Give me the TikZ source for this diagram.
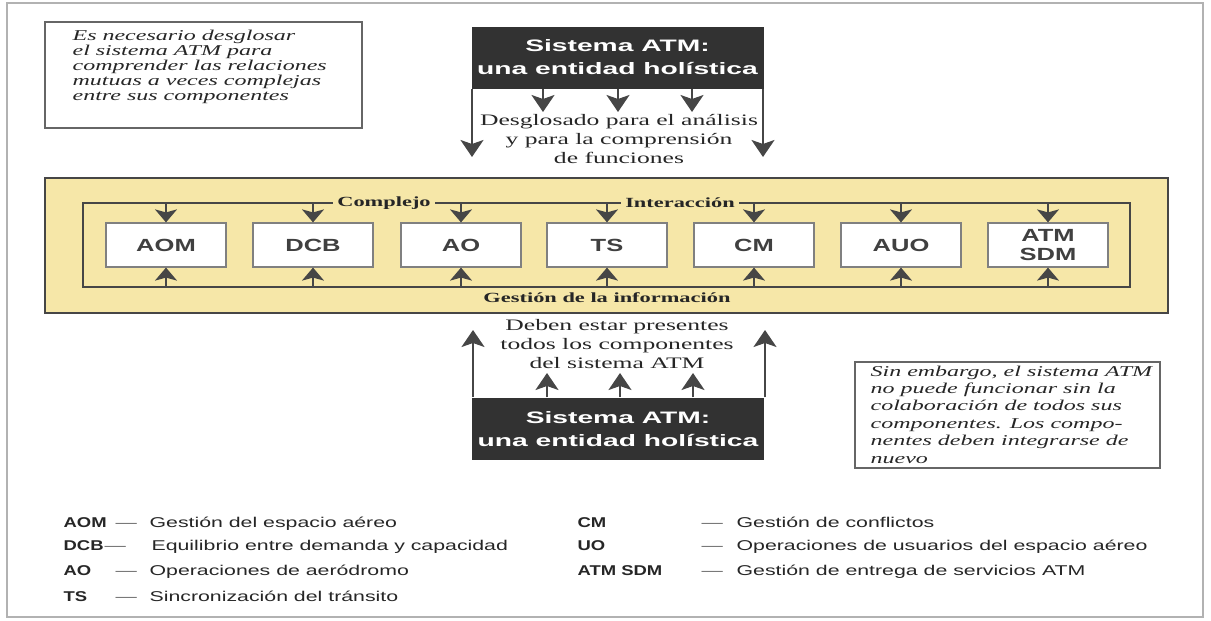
\documentclass[tikz,border=0pt]{standalone}
\usepackage{fontspec}
\usepackage{xcolor}
\usepackage{tikz}
\usetikzlibrary{arrows.meta}

\newfontfamily\notafont[FakeStretch=1.6]{Liberation Serif}
\newfontfamily\titulofont[FakeStretch=1.7]{Liberation Sans}
\newfontfamily\cajafont[FakeStretch=1.45]{Liberation Sans}
\newfontfamily\leyendafont[FakeStretch=1.5]{Liberation Sans}
\newfontfamily\abrevfont[FakeStretch=1.3]{Liberation Sans}

\definecolor{amarillo}{RGB}{246,231,168}
\definecolor{oscuro}{RGB}{50,50,50}
\definecolor{gris}{RGB}{70,70,70}

\begin{document}
\begin{tikzpicture}[x=0.5pt, y=-0.5pt, line width=0.6pt]

		\tikzset{
			flecha/.style={draw=gris, line width=0.8pt, -{Stealth[length=6.5pt, width=11pt, inset=1.5pt]}},
			flechagrande/.style={draw=gris, line width=1pt, -{Stealth[length=8.5pt, width=11.5pt, inset=2pt]}},
			recuadro/.style={draw=gray!80!black, line width=0.6pt},
			holistica/.style={fill=oscuro, text=white, font=\titulofont\bfseries\fontsize{8.3}{11.5}\selectfont, align=center, minimum width=146pt, minimum height=31pt, inner sep=0pt},
			componente/.style={draw=gray, fill=white, text=black!75, font=\cajafont\bfseries\fontsize{8.8}{9.5}\selectfont, align=center, minimum width=60pt, minimum height=22pt, inner sep=0pt},
			nota/.style={font=\notafont\itshape\fontsize{7.5}{7.6}\selectfont, text=black!85, align=left, anchor=north west, inner sep=0pt},
			texto/.style={font=\notafont\fontsize{8}{9.5}\selectfont, text=black!85, align=center, inner sep=0pt},
			etiqueta/.style={font=\notafont\bfseries\fontsize{7}{8}\selectfont, text=black!85, inner xsep=2pt, inner ysep=1pt},
			abrev/.style={font=\abrevfont\bfseries\fontsize{7.1}{8}\selectfont, text=black!85, anchor=base west, inner sep=0pt},
			guion/.style={font=\leyendafont\fontsize{7.1}{8}\selectfont, text=black!60, anchor=base west, inner sep=0pt},
			descripcion/.style={font=\leyendafont\fontsize{7.1}{8}\selectfont, text=black!85, anchor=base west, inner sep=0pt},
		}
		
		\useasboundingbox (0,0) rectangle (1211,621);
		\draw [gray!60, line width=1pt] (7,3) rectangle (1203,617);
		
		\draw [recuadro] (45,22) rectangle (362,128);
		\node (nota1) [nota] at (72,29) {Es necesario desglosar\\el sistema ATM para\\comprender las relaciones\\mutuas a veces complejas\\entre sus componentes};
		
		\draw [recuadro] (855,362) rectangle (1160,468);
		\node (nota2) [nota, font=\notafont\itshape\fontsize{7.5}{8.7}\selectfont] at (870,365) {Sin embargo, el sistema ATM\\no puede funcionar sin la\\colaboración de todos sus\\componentes. Los compo-\\nentes deben integrarse de\\nuevo};
		
		\node (holarriba) [holistica] at (617.5,57.5) {Sistema ATM:\\una entidad holística};
		
		\coordinate (baja1) at (472,157);
		\coordinate (baja2) at (763,157);
		\coordinate (desg1) at (543,112);
		\coordinate (desg2) at (618,112);
		\coordinate (desg3) at (692,112);
		
		\draw [flechagrande] (holarriba.south -| baja1) -- (baja1);
		\draw [flechagrande] (holarriba.south -| baja2) -- (baja2);
		\draw [flechagrande] (holarriba.south -| desg1) -- (desg1);
		\draw [flechagrande] (holarriba.south -| desg2) -- (desg2);
		\draw [flechagrande] (holarriba.south -| desg3) -- (desg3);
		
		\node (desglose) [texto] at (619,139) {Desglosado para el análisis\\y para la comprensión\\de funciones};
		
		\node (banda) [draw=gris, fill=amarillo, minimum width=561.5pt, minimum height=67.5pt, inner sep=0pt] at (606.5,245.5) {};
		\node (marco) [draw=gris, minimum width=523.5pt, minimum height=42pt, inner sep=0pt] at (606.5,245) {};
		
		\node (complejo) [etiqueta, fill=amarillo] at (384,203) {Complejo};
		\node (interaccion) [etiqueta, fill=amarillo] at (680,203) {Interacción};
		\node (gestion) [etiqueta] at (607,298) {Gestión de la información};
		
		\node (aom) [componente] at (166,245) {AOM};
		\node (dcb) [componente] at (313,245) {DCB};
		\node (ao) [componente] at (461,245) {AO};
		\node (ts) [componente] at (607,245) {TS};
		\node (cm) [componente] at (754,245) {CM};
		\node (auo) [componente] at (901,245) {AUO};
		\node (sdm) [componente] at (1048,245) {ATM\\SDM};
		
		\draw [flecha] (aom.north |- marco.north) -- (aom.north);
		\draw [flecha] (dcb.north |- marco.north) -- (dcb.north);
		\draw [flecha] (ao.north |- marco.north) -- (ao.north);
		\draw [flecha] (ts.north |- marco.north) -- (ts.north);
		\draw [flecha] (cm.north |- marco.north) -- (cm.north);
		\draw [flecha] (auo.north |- marco.north) -- (auo.north);
		\draw [flecha] (sdm.north |- marco.north) -- (sdm.north);
		
		\draw [flecha] (aom.south |- marco.south) -- (aom.south);
		\draw [flecha] (dcb.south |- marco.south) -- (dcb.south);
		\draw [flecha] (ao.south |- marco.south) -- (ao.south);
		\draw [flecha] (ts.south |- marco.south) -- (ts.south);
		\draw [flecha] (cm.south |- marco.south) -- (cm.south);
		\draw [flecha] (auo.south |- marco.south) -- (auo.south);
		\draw [flecha] (sdm.south |- marco.south) -- (sdm.south);
		
		\node (presentes) [texto] at (617,344) {Deben estar presentes\\todos los componentes\\del sistema ATM};
		
		\node (holabajo) [holistica] at (618,429) {Sistema ATM:\\una entidad holística};
		
		\coordinate (sube1) at (473,330);
		\coordinate (sube2) at (765,330);
		\coordinate (pres1) at (547,373);
		\coordinate (pres2) at (620,373);
		\coordinate (pres3) at (693,373);
		
		\draw [flechagrande] (holabajo.north -| sube1) -- (sube1);
		\draw [flechagrande] (holabajo.north -| sube2) -- (sube2);
		\draw [flechagrande] (holabajo.north -| pres1) -- (pres1);
		\draw [flechagrande] (holabajo.north -| pres2) -- (pres2);
		\draw [flechagrande] (holabajo.north -| pres3) -- (pres3);
		
		\node (abrAOM) [abrev] at (63,527) {AOM};
		\node (guiAOM) [guion] at (115,527) {—};
		\node (desAOM) [descripcion] at (149,527) {Gestión del espacio aéreo};
		
		\node (abrDCB) [abrev] at (63,550) {DCB};
		\node (guiDCB) [guion] at (104,550) {—};
		\node (desDCB) [descripcion] at (151,550) {Equilibrio entre demanda y capacidad};
		
		\node (abrAO) [abrev] at (63,575) {AO};
		\node (guiAO) [guion] at (115,575) {—};
		\node (desAO) [descripcion] at (149,575) {Operaciones de aeródromo};
		
		\node (abrTS) [abrev] at (63,601) {TS};
		\node (guiTS) [guion] at (115,601) {—};
		\node (desTS) [descripcion] at (149,601) {Sincronización del tránsito};
		
		\node (abrCM) [abrev] at (577,527) {CM};
		\node (guiCM) [guion] at (701,527) {—};
		\node (desCM) [descripcion] at (736,527) {Gestión de conflictos};
		
		\node (abrUO) [abrev] at (577,550) {UO};
		\node (guiUO) [guion] at (701,550) {—};
		\node (desUO) [descripcion] at (736,550) {Operaciones de usuarios del espacio aéreo};
		
		\node (abrSDM) [abrev] at (577,575) {ATM SDM};
		\node (guiSDM) [guion] at (701,575) {—};
		\node (desSDM) [descripcion] at (736,575) {Gestión de entrega de servicios ATM};
\end{tikzpicture}
\end{document}
